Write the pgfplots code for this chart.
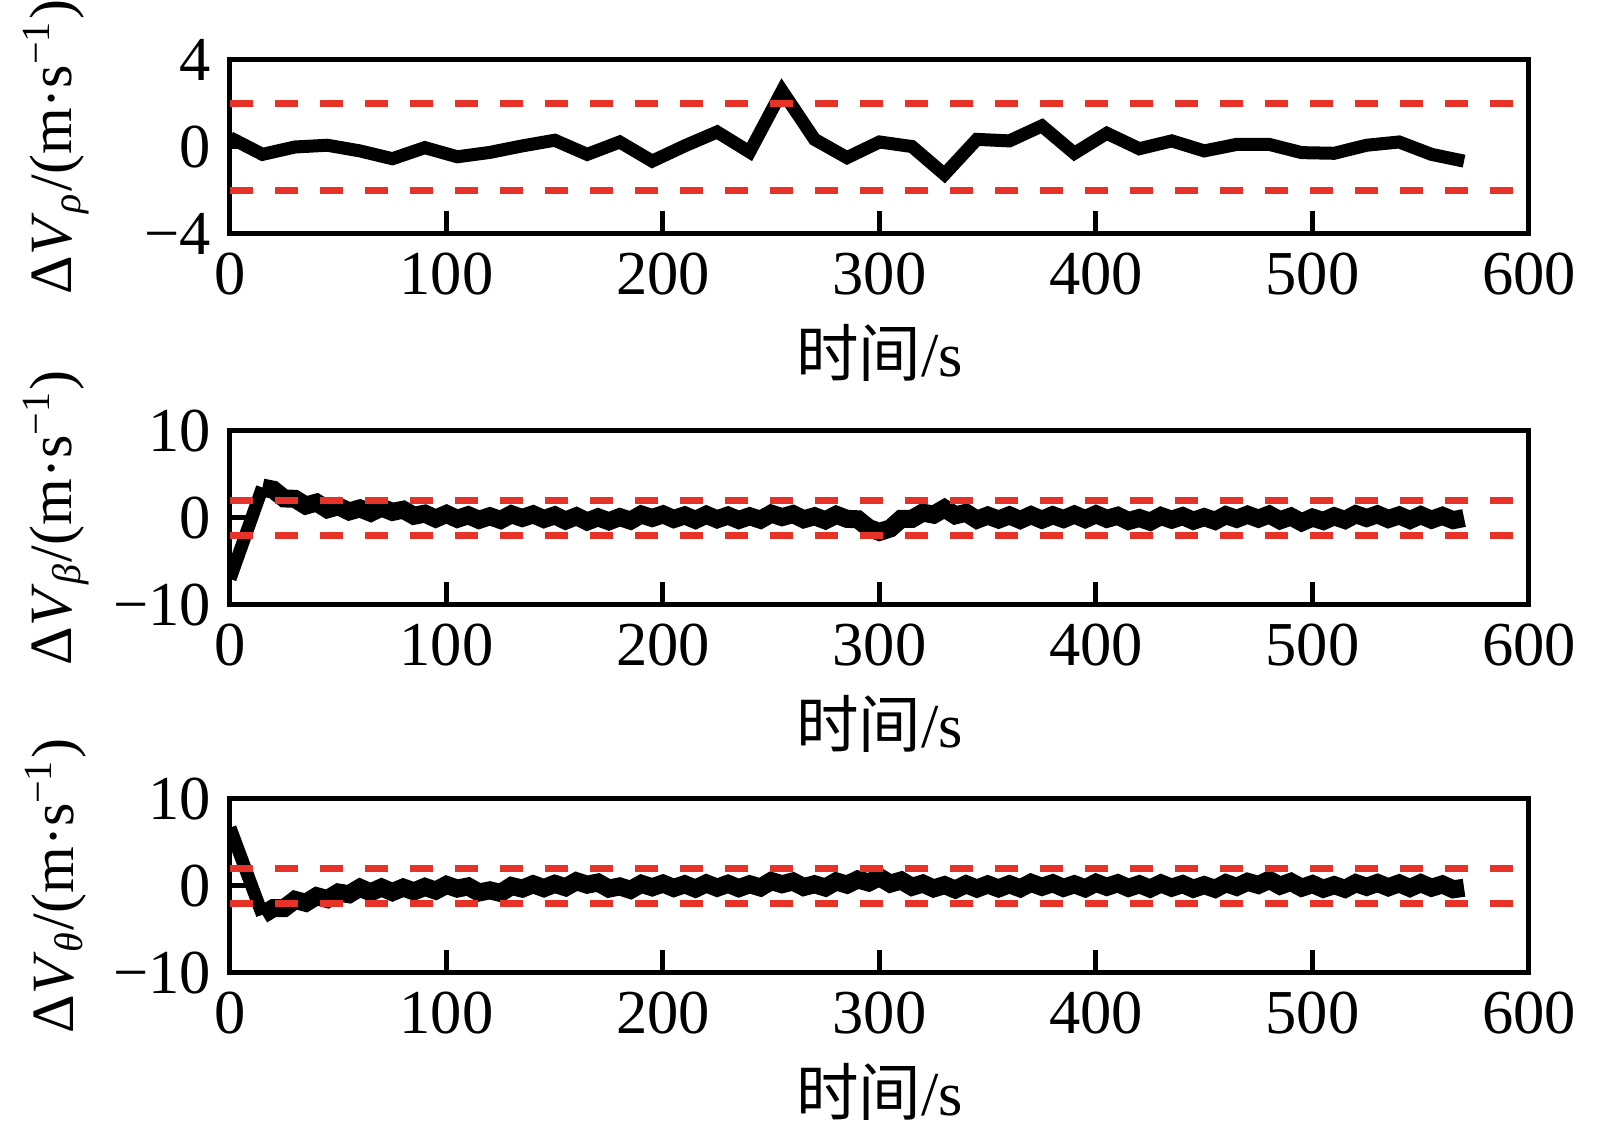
\documentclass[border=0pt]{standalone}
\usepackage{fontspec}
\setmainfont{Liberation Serif}
\newfontfamily\cjk{Noto Sans CJK SC}
\usepackage{amsmath}
\usepackage{pgfplots}
\pgfplotsset{compat=1.18}
\definecolor{refred}{RGB}{230,50,40}

\pgfplotsset{
 panel/.style={
  scale only axis, width=259.8pt, height=34.8pt,
  anchor=south west,
  line width=1pt,
  xmin=0,xmax=600, xtick={0,100,200,300,400,500,600},
  xticklabels={0,100,200,300,400,500,600},
  tick align=inside, xtick pos=bottom, ytick pos=left,
  major tick length=4.6pt,
  every tick/.style={line width=1pt, black},
  ticklabel style={font=\fontsize{12.5}{14}\selectfont},
  xlabel style={font=\fontsize{12.5}{14}\selectfont},
  ylabel style={font=\fontsize{12}{14}\selectfont},
  xlabel={{\cjk 时间}/s},
  xlabel style={at={(axis description cs:0.5,0)}, anchor=north, yshift=-14.2pt},
  ylabel style={at={(axis description cs:-0.134,0.5)}, anchor=center},
 },
 blk/.style={black, line width=2.6pt},
 band/.style={black, line width=3.6pt},
 rdl/.style={refred, line width=1.4pt, dash pattern=on 4.6pt off 4.4pt},
}

\begin{document}
\begin{tikzpicture}
\useasboundingbox (0,0) rectangle (322pt,227.4pt);

% Panel 1
\begin{axis}[panel, at={(46pt,180.6pt)},
  ymin=-4, ymax=4, ytick={-4,0,4}, yticklabels={−4,0,4},
  ylabel={Δ\textit{V}$_{\textit{ρ}}$/(m·s$^{\text{−1}}$)}]
\addplot[blk] coordinates {
(0,0.43) (15,-0.34) (30,0.0) (45,0.08) (60,-0.18) (75,-0.54) (90,-0.03) (105,-0.45)
(120,-0.25) (135,0.05) (150,0.31) (165,-0.34) (180,0.23) (195,-0.65) (210,0.05)
(225,0.69) (240,-0.23) (255,2.58) (270,0.35) (285,-0.49) (300,0.23) (315,0.02)
(330,-1.26) (345,0.35) (360,0.28) (375,0.97) (390,-0.29) (405,0.63) (420,-0.08)
(435,0.28) (450,-0.18) (465,0.12) (480,0.12) (495,-0.26) (510,-0.29) (525,0.08)
(540,0.23) (555,-0.34) (570,-0.65)};
\addplot[rdl] coordinates {(0,2) (600,2)};
\addplot[rdl] coordinates {(0,-2) (600,-2)};
\end{axis}

% Panel 2
\begin{axis}[panel, at={(46pt,106.4pt)},
  ymin=-10, ymax=10, ytick={-10,0,10}, yticklabels={−10,0,10},
  ylabel={Δ\textit{V}$_{\textit{β}}$/(m·s$^{\text{−1}}$)}]
\addplot[blk] coordinates {(0,-7.0) (5,-3.5) (10,0.0) (15,3.5)};
\addplot[band] coordinates {
(15,3.5) (20,3.25) (25,2.25) (30,2.2) (35,1.43) (40,1.77) (45,1.0) (50,1.35) (55,0.75)
(60,1.1) (65,0.6) (70,1.2) (75,0.7) (80,0.95) (85,0.25) (90,0.5) (95,-0.07) (100,0.47)
(105,-0.1) (110,0.32) (115,-0.22) (120,0.2) (125,-0.23) (130,0.43) (135,0) (140,0.42)
(145,-0.12) (150,0.3) (155,-0.3) (160,0.2) (165,-0.4) (170,0.08) (175,-0.38) (180,0.1)
(185,-0.3) (190,0.4) (195,0) (200,0.42) (205,-0.12) (210,0.3) (215,-0.22) (220,0.37)
(225,-0.15) (230,0.28) (235,-0.23) (240,0.2) (245,-0.2) (250,0.5) (255,0.1) (260,0.45)
(265,-0.15) (270,0.2) (275,-0.27) (280,0.37) (285,-0.1) (290,-0.15) (295,-1.15)
(300,-1.6) (305,-1.2) (310,-0.1) (315,-0.1) (320,0.62) (325,0.38) (330,1.1) (335,0.3)
(340,0.6) (345,-0.2) (350,0.28) (355,-0.18) (360,0.3) (365,-0.23) (370,0.33) (375,-0.2)
(380,0.32) (385,-0.12) (390,0.4) (395,-0.13) (400,0.43) (405,-0.1) (410,0.25) (415,-0.35)
(420,0) (425,-0.43) (430,0.23) (435,-0.2) (440,0.22) (445,-0.32) (450,0.1) (455,-0.33)
(460,0.33) (465,-0.1) (470,0.38) (475,-0.08) (480,0.4) (485,-0.27) (490,0.17) (495,-0.5)
(500,0.05) (505,-0.35) (510,0.2) (515,-0.23) (520,0.43) (525,0) (530,0.42) (535,-0.12)
(540,0.3) (545,-0.23) (550,0.33) (555,-0.2) (560,0.25) (565,-0.25) (570,0)};
\addplot[rdl] coordinates {(0,2) (600,2)};
\addplot[rdl] coordinates {(0,-2) (600,-2)};
\end{axis}

% Panel 3
\begin{axis}[panel, at={(46pt,32.8pt)},
  ymin=-10, ymax=10, ytick={-10,0,10}, yticklabels={−10,0,10},
  ylabel={Δ\textit{V}$_{\textit{θ}}$/(m·s$^{\text{−1}}$)}]
\addplot[blk] coordinates {(0,6.7) (5,3.37) (10,0.03) (15,-3.3)};
\addplot[band] coordinates {
(15,-3.3) (20,-2.55) (25,-2.55) (30,-1.6) (35,-1.93) (40,-1.17) (45,-1.5) (50,-0.75)
(55,-0.95) (60,-0.2) (65,-0.73) (70,-0.17) (75,-0.7) (80,-0.18) (85,-0.62) (90,-0.1)
(95,-0.53) (100,0.13) (105,-0.3) (110,-0.05) (115,-0.75) (120,-0.5) (125,-0.8) (130,0)
(135,-0.3) (140,0.2) (145,-0.25) (150,0.25) (155,-0.15) (160,0.55) (165,0.15) (170,0.4)
(175,-0.3) (180,-0.05) (185,-0.45) (190,0.25) (195,-0.15) (200,0.28) (205,-0.23)
(210,0.2) (215,-0.3) (220,0.3) (225,-0.2) (230,0.25) (235,-0.25) (240,0.2) (245,-0.17)
(250,0.57) (255,0.2) (260,0.52) (265,-0.12) (270,0.2) (275,-0.18) (280,0.53) (285,0.15)
(290,0.75) (295,0.4) (300,1.0) (305,0.27) (310,0.63) (315,-0.1) (320,0.28) (325,-0.28)
(330,0.1) (335,-0.4) (340,0.2) (345,-0.3) (350,0.18) (355,-0.28) (360,0.2) (365,-0.27)
(370,0.37) (375,-0.1) (380,0.32) (385,-0.22) (390,0.2) (395,-0.27) (400,0.37) (405,-0.1)
(410,0.32) (415,-0.22) (420,0.2) (425,-0.3) (430,0.3) (435,-0.2) (440,0.22) (445,-0.32)
(450,0.1) (455,-0.33) (460,0.33) (465,-0.1) (470,0.48) (475,0.12) (480,0.7) (485,0.03)
(490,0.47) (495,-0.2) (500,0.22) (505,-0.32) (510,0.1) (515,-0.33) (520,0.33) (525,-0.1)
(530,0.35) (535,-0.15) (540,0.3) (545,-0.23) (550,0.33) (555,-0.2) (560,0.18) (565,-0.38)
(570,-0.2)};
\addplot[rdl] coordinates {(0,2) (600,2)};
\addplot[rdl] coordinates {(0,-2) (600,-2)};
\end{axis}
\end{tikzpicture}
\end{document}
